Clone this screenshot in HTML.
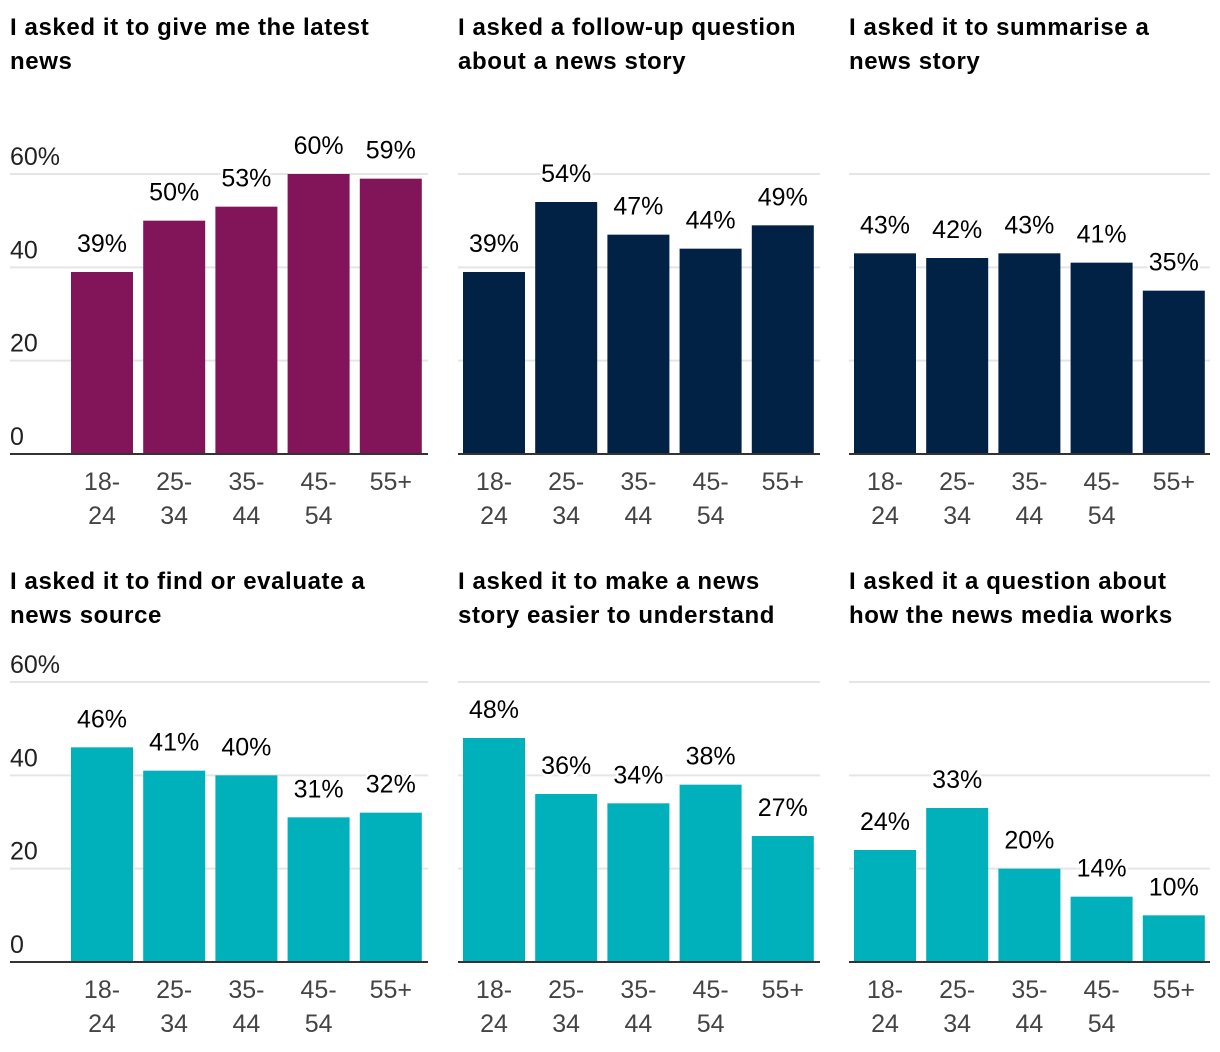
<!DOCTYPE html>
<html><head><meta charset="utf-8"><style>
body{margin:0;background:#fff;}
svg{display:block;font-family:"Liberation Sans",sans-serif;}
</style></head><body>
<svg id="c" width="1220" height="1052"></svg>
<script>
const categories = ["18-24","25-34","35-44","45-54","55+"];
const titles = [
  ["I asked it to give me the latest","news"],
  ["I asked a follow-up question","about a news story"],
  ["I asked it to summarise a","news story"],
  ["I asked it to find or evaluate a","news source"],
  ["I asked it to make a news","story easier to understand"],
  ["I asked it a question about","how the news media works"]
];
const latestNews = [39,50,53,60,59];
const followUp = [39,54,47,44,49];
const summarise = [43,42,43,41,35];
const evaluateSource = [46,41,40,31,32];
const easierUnderstand = [48,36,34,38,27];
const mediaWorks = [24,33,20,14,10];
const yTicks = [0,20,40,60];
const series = [latestNews,followUp,summarise,evaluateSource,easierUnderstand,mediaWorks];
const colors = ["#82145a","#012145","#012145","#00b0bb","#00b0bb","#00b0bb"];

const NS="http://www.w3.org/2000/svg";
const svg=document.getElementById('c');
function mk(tag,attrs,parent){const e=document.createElementNS(NS,tag);for(const k in attrs)e.setAttribute(k,attrs[k]);(parent||svg).appendChild(e);return e;}
const panelX=[{x0:10,x1:428,b0:71},{x0:458,x1:820,b0:463},{x0:849,x1:1210,b0:854}];
const rowBase=[454,962];
const rowTitle=[35,589];
const pxPer=280/60;
const step=72.2, bw=62;

series.forEach((vals,i)=>{
  const col=i%3,row=Math.floor(i/3);
  const p=panelX[col], base=rowBase[row];
  const y=v=>base-v*pxPer;
  const x=j=>p.b0+j*step;
  const g=mk('g',{});
  
  
  titles[i].forEach((t,k)=>{
    const tx=mk('text',{x:p.x0,y:rowTitle[row]+k*34,'font-size':24,'font-weight':'bold',fill:'#000','letter-spacing':0.6},g);
    tx.textContent=t;
    
    
  });
  yTicks.forEach(t=>{
    if(t>0){const l=mk('line',{x1:p.x0,x2:p.x1,y1:y(t),y2:y(t),stroke:'#e5e5e5','stroke-width':2},g);
      
      }
    if(col===0){
      const tt=mk('text',{x:p.x0,y:y(t)-9,'font-size':25,fill:'#222'},g);
      tt.textContent=t===60?'60%':String(t);
      
      
    }
  });
  vals.forEach((v,j)=>{
    const r=mk('rect',{x:x(j),y:y(v),width:bw,height:v*pxPer,fill:colors[i]},g);
    
    
    const lt=mk('text',{x:x(j)+bw/2,y:y(v)-20,'font-size':25,fill:'#000','text-anchor':'middle',stroke:'#fff','stroke-width':5,'paint-order':'stroke'},g);
    lt.textContent=v+'%';
    
    
    const parts=categories[j].includes('-')?[categories[j].split('-')[0]+'-',categories[j].split('-')[1]]:[categories[j]];
    parts.forEach((s,k)=>{
      const xt=mk('text',{x:x(j)+bw/2,y:base+36+k*34,'font-size':25,fill:'#444','text-anchor':'middle'},g);
      xt.textContent=s;
      
      
    });
  });
  const ax=mk('line',{x1:p.x0,x2:p.x1,y1:base,y2:base,stroke:'#333','stroke-width':2},g);
  
  
});
</script>
</body></html>
